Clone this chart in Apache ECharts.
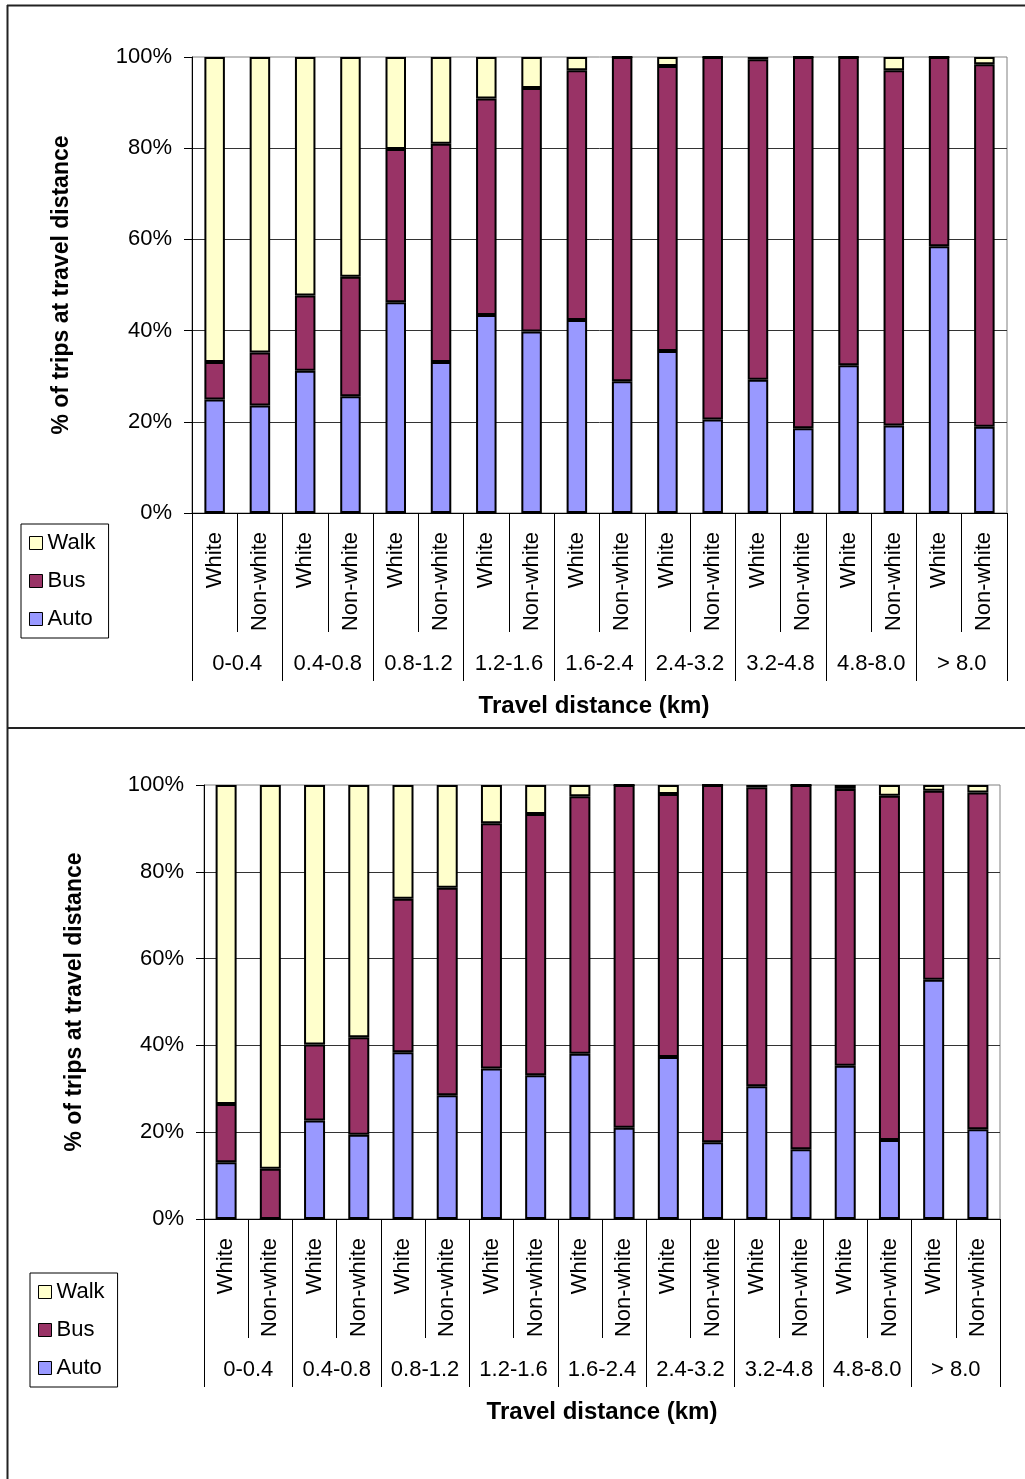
<!DOCTYPE html>
<html>
<head>
<meta charset="utf-8">
<title>Trip mode share by travel distance</title>
<script src="https://cdn.jsdelivr.net/npm/echarts@6/dist/echarts.min.js"></script>
<style>
  html, body { margin: 0; padding: 0; background: #fff; }
  #chart { width: 1025px; height: 1479px; }
</style>
</head>
<body>
<div id="chart"></div>
<script>
// Distance bands (km) and the two population groups inside each band
const distanceGroups = ['0-0.4', '0.4-0.8', '0.8-1.2', '1.2-1.6', '1.6-2.4', '2.4-3.2', '3.2-4.8', '4.8-8.0', '> 8.0'];
const raceGroups = ['White', 'Non-white'];
const modes = ['Walk', 'Bus', 'Auto'];
const yTickStep = 20;

// Upper panel: share of trips (%) by mode, one value per White / Non-white bar
const autoUpper = [24.9, 23.6, 31.2, 25.6, 46.2, 33.1, 43.4, 39.8, 42.3, 28.9, 35.5, 20.5, 29.2, 18.6, 32.4, 19.2, 58.5, 18.9];
const busUpper  = [8.2, 11.6, 16.5, 26.2, 33.6, 47.9, 47.5, 53.4, 54.8, 71.1, 62.5, 79.5, 70.3, 81.4, 67.6, 77.9, 41.5, 79.5];
const walkUpper = [66.9, 64.8, 52.3, 48.2, 20.2, 19.0, 9.1, 6.8, 2.9, 0, 2.0, 0, 0.5, 0, 0, 2.9, 0, 1.6];

// Lower panel
const autoLower = [13.1, 0, 22.7, 19.4, 38.4, 28.5, 34.7, 33.1, 38.1, 21.0, 37.3, 17.7, 30.6, 16.1, 35.3, 18.2, 55.1, 20.7];
const busLower  = [13.4, 11.6, 17.5, 22.5, 35.4, 47.8, 56.5, 60.2, 59.3, 79.0, 60.6, 82.3, 68.9, 83.9, 63.8, 79.3, 43.6, 77.6];
const walkLower = [73.5, 88.4, 59.8, 58.1, 26.2, 23.7, 8.8, 6.7, 2.6, 0, 2.1, 0, 0.5, 0, 0.9, 2.5, 1.3, 1.7];

const FONT = "'Liberation Sans', Arial, sans-serif";
const COLORS = { Walk: '#FFFFCC', Bus: '#993366', Auto: '#9999FF' };

// One unique key per bar; the label shows only the group name
const barKeys = [];
distanceGroups.forEach(d => raceGroups.forEach(r => barKeys.push(d + '|' + r)));

const chart = echarts.init(document.getElementById('chart'), null, { renderer: 'canvas' });

function panelAxes(gridIndex) {
  return [
    {
      type: 'category', gridIndex, position: 'bottom', data: barKeys,
      axisLine: { lineStyle: { color: '#000', width: 1 } },
      axisTick: { show: true, interval: 0, length: 119, lineStyle: { color: '#000', width: 1 } },
      axisLabel: {
        interval: 0, rotate: 90, margin: 19, color: '#000', fontSize: 22, fontFamily: FONT,
        formatter: v => v.split('|')[1]
      },
      splitLine: { show: false }
    },
    {
      type: 'category', gridIndex, position: 'bottom', data: distanceGroups,
      axisLine: { show: false },
      axisTick: { show: true, interval: 0, length: 168, lineStyle: { color: '#000', width: 1 } },
      axisLabel: { interval: 0, margin: 140, color: '#000', fontSize: 22, fontFamily: FONT },
      splitLine: { show: false }
    }
  ];
}

function yAxisFor(gridIndex) {
  return {
    type: 'value', gridIndex, min: 0, max: 100, interval: yTickStep,
    axisLine: { show: true, lineStyle: { color: '#000', width: 1 } },
    axisTick: { show: true, length: 8, lineStyle: { color: '#000' } },
    axisLabel: { margin: 20, color: '#000', fontSize: 22, fontFamily: FONT, formatter: '{value}%' },
    splitLine: { show: true, showMaxLine: false, lineStyle: { color: '#333', width: 1 } }
  };
}

function stackSeries(stack, xAxisIndex, yAxisIndex, barWidth, auto, bus, walk) {
  const values = { Auto: auto, Bus: bus, Walk: walk };
  return ['Auto', 'Bus', 'Walk'].map(name => ({
    name, type: 'bar', stack, xAxisIndex, yAxisIndex, barWidth,
    data: values[name],
    itemStyle: { color: COLORS[name], borderColor: '#000', borderWidth: 2 }
  }));
}

function legendAt(left, top) {
  return {
    data: modes, orient: 'vertical', left, top, icon: 'rect',
    itemWidth: 13, itemHeight: 13, itemGap: 16, itemTextGap: 8,
    padding: [8, 13, 8, 8], borderColor: '#000', borderWidth: 1,
    selectedMode: false,
    itemStyle: { borderColor: '#000', borderWidth: 1 },
    textStyle: { fontSize: 22, lineHeight: 22, color: '#000', fontFamily: FONT }
  };
}

function titleText(text, x, y, rotation, size) {
  return {
    type: 'text', x, y, rotation,
    style: { text, font: 'bold ' + size + 'px ' + FONT, fill: '#000', align: 'center', verticalAlign: 'middle' }
  };
}

const option = {
  animation: false,
  backgroundColor: '#fff',
  grid: [
    { left: 192, top: 57, right: 18, height: 456, show: true, borderColor: '#808080', borderWidth: 1 },
    { left: 204, top: 785, right: 25, height: 434, show: true, borderColor: '#808080', borderWidth: 1 }
  ],
  xAxis: [...panelAxes(0), ...panelAxes(1)],
  yAxis: [yAxisFor(0), yAxisFor(1)],
  legend: [legendAt(21, 524), legendAt(30, 1273)],
  series: [
    ...stackSeries('upper', 0, 0, 20.5, autoUpper, busUpper, walkUpper),
    ...stackSeries('lower', 2, 1, 21, autoLower, busLower, walkLower)
  ],
  graphic: [
    // panel frames
    { type: 'line', shape: { x1: 7, y1: 5.5, x2: 1025, y2: 5.5 }, style: { stroke: '#222', lineWidth: 2 } },
    { type: 'line', shape: { x1: 7.5, y1: 5, x2: 7.5, y2: 1479 }, style: { stroke: '#222', lineWidth: 2 } },
    { type: 'line', shape: { x1: 7, y1: 728, x2: 1025, y2: 728 }, style: { stroke: '#222', lineWidth: 2 } },
    // axis titles
    titleText('% of trips at travel distance', 62, 285, Math.PI / 2, 23),
    titleText('Travel distance (km)', 594, 706, 0, 24),
    titleText('% of trips at travel distance', 75, 1002, Math.PI / 2, 23),
    titleText('Travel distance (km)', 602, 1412, 0, 24)
  ]
};

chart.setOption(option);
</script>
</body>
</html>
